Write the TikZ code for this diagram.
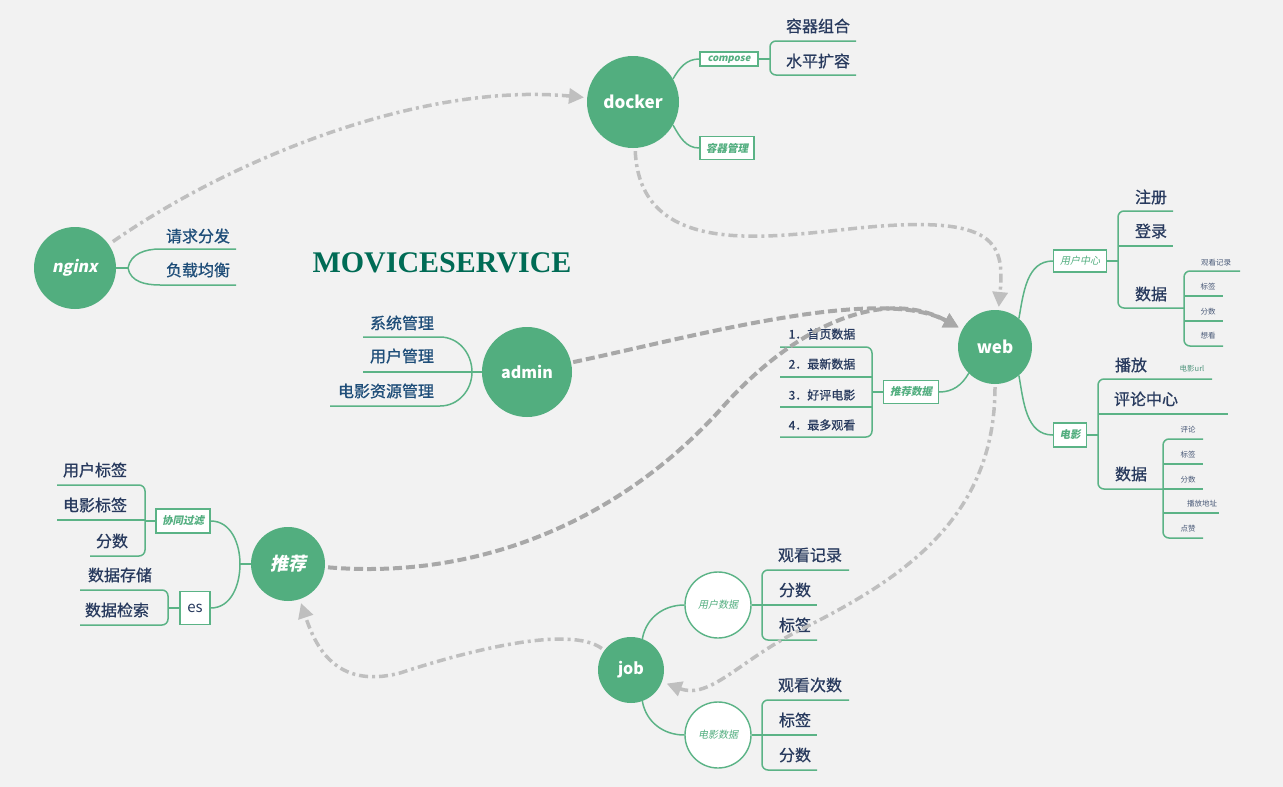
\documentclass[tikz,border=0pt]{standalone}
\usepackage{fontspec}
\setmainfont{Noto Sans CJK SC}
\newfontfamily\slantfont{Noto Sans CJK SC}[FakeSlant=0.2]
\newfontfamily\itemfont{Noto Sans CJK SC}[FakeBold=0.8]
\newfontfamily\titlefont{Liberation Serif}
\usetikzlibrary{arrows.meta}

\definecolor{bg}{HTML}{F2F2F2}
\definecolor{nodegreen}{HTML}{52AE7F}
\definecolor{linegreen}{HTML}{5BB386}
\definecolor{navy}{HTML}{283A5E}
\definecolor{labblue}{HTML}{1F4E79}
\definecolor{slate}{HTML}{4A5A78}
\definecolor{light}{HTML}{BFBFBF}
\definecolor{dark}{HTML}{A8A8A8}
\definecolor{titlegreen}{HTML}{006B55}

\begin{document}
\begin{tikzpicture}[x=1pt, y=-1pt,
    main/.style = {circle, fill=nodegreen, text=white, font=\bfseries\fontsize{17}{17}\selectfont},
    side/.style = {circle, draw=linegreen, line width=1.4pt, fill=white, text=nodegreen, minimum size=66pt, inner sep=0pt, font=\slantfont\fontsize{10}{10}\selectfont},
    tag/.style = {draw=linegreen, line width=1.4pt, fill=white, text=nodegreen, inner sep=0pt, font=\slantfont\bfseries\fontsize{10.5}{11}\selectfont},
    item/.style = {text=navy, inner sep=0pt, font=\itemfont\fontsize{16}{16}\selectfont},
    num/.style = {text=navy, inner sep=0pt, font=\itemfont\fontsize{12}{12}\selectfont},
    mini/.style = {text=slate, inner sep=0pt, font=\fontsize{7.5}{8}\selectfont},
    link/.style = {draw=linegreen, line width=1.5pt},
    fork/.style = {link, rounded corners=6pt},
    flow/.style = {draw=light, line width=3.5pt, dash pattern=on 9pt off 4pt on 3pt off 4pt, -{Triangle[length=15pt,width=15pt]}},
    pull/.style = {draw=dark, line width=4pt, dash pattern=on 9pt off 4pt, -{Triangle[length=15pt,width=15pt]}}]
  \fill[bg] (0,0) rectangle (1283,787);

  % main nodes
  \node[main, minimum size=92pt] (docker) at (633,102) {docker};
  \node[main, minimum size=82pt, font=\slantfont\bfseries\fontsize{16}{16}\selectfont] (nginx) at (75,268) {nginx};
  \node[main, minimum size=90pt, font=\bfseries\fontsize{16}{16}\selectfont] (admin) at (527,372) {admin};
  \node[main, minimum size=74pt] (web) at (995,347) {web};
  \node[main, minimum size=74pt, font=\slantfont\bfseries\fontsize{18}{18}\selectfont] (rec) at (288,564) {推荐};
  \node[main, minimum size=66pt, font=\bfseries\fontsize{16}{16}\selectfont] (job) at (631,670) {job};
  \node[text=titlegreen, font=\titlefont\bfseries\fontsize{30}{30}\selectfont] (title) at (442,263) {MOVICESERVICE};

  % docker
  \node[tag, minimum width=58pt, minimum height=14pt, text height=6pt, text depth=2pt, font=\slantfont\bfseries\fontsize{9.5}{10}\selectfont] (compose) at (729,59) {compose};
  \node[tag, minimum width=54pt, minimum height=23pt] (cm) at (727,148) {容器管理};
  \draw[link] (docker.30) to[out=60, in=180] (compose);
  \draw[link] (docker.-30) to[out=-60, in=180] (cm);
  \draw[link] (compose) -- (770,59);
  \draw[fork] (856,41) -- (770,41) -- (770,75) -- (856,75);
  \node[item] (c1) at (818,26) {容器组合};
  \node[item] (c2) at (818,61) {水平扩容};

  % nginx
  \draw[link] (nginx) -- (128,268);
  \draw[link] (236,249) -- (160,249) to[out=180, in=80] (128,268) to[out=-80, in=180] (160,285) -- (236,285);
  \node[item, text=labblue] (n1) at (198,236) {请求分发};
  \node[item, text=labblue] (n2) at (198,270) {负载均衡};

  % admin
  \draw[link] (admin) -- (472,372);
  \draw[link] (363,337) -- (440,337) to[out=0, in=90] (472,372) to[out=-90, in=0] (440,406) -- (330,406);
  \draw[link] (363,372) -- (472,372);
  \node[item, text=labblue] (a1) at (402,323) {系统管理};
  \node[item, text=labblue] (a2) at (402,356) {用户管理};
  \node[item, text=labblue] (a3) at (386,391) {电影资源管理};

  % web: user center
  \node[tag, minimum width=53pt, minimum height=22pt, font=\slantfont\fontsize{10}{10}\selectfont] (uc) at (1080,261) {用户中心};
  \draw[link] (web.50) to[out=80, in=180] (uc);
  \draw[link] (uc) -- (1118,261);
  \draw[fork] (1173,211) -- (1118,211) -- (1118,308) -- (1184,308);
  \draw[link] (1118,246) -- (1173,246);
  \draw[fork] (1240,271) -- (1184,271) -- (1184,346) -- (1223,346);
  \draw[link] (1184,296) -- (1223,296) (1184,321) -- (1223,321);
  \node[item] (u1) at (1151,197) {注册};
  \node[item] (u2) at (1151,231) {登录};
  \node[item] (u3) at (1151,294) {数据};
  \node[mini] (u4) at (1216,263) {观看记录};
  \node[mini] (u5) at (1208,287) {标签};
  \node[mini] (u6) at (1208,312) {分数};
  \node[mini] (u7) at (1208,336) {想看};

  % web: film
  \node[tag, minimum width=33pt, minimum height=24pt] (film) at (1070,435) {电影};
  \draw[link] (web.-50) to[out=-80, in=180] (film);
  \draw[link] (film) -- (1098,435);
  \draw[fork] (1212,379) -- (1098,379) -- (1098,489) -- (1163,489);
  \draw[link] (1098,414) -- (1228,414);
  \draw[fork] (1203,439) -- (1163,439) -- (1163,538) -- (1203,538);
  \draw[link] (1163,464) -- (1203,464) (1163,489) -- (1203,489) (1163,513) -- (1219,513);
  \node[item] (f1) at (1131,365) {播放};
  \node[mini, text=nodegreen!70!slate] (f2) at (1192,369) {电影url};
  \node[item] (f3) at (1146,399) {评论中心};
  \node[item] (f4) at (1131,474) {数据};
  \node[mini] (f5) at (1188,430) {评论};
  \node[mini] (f6) at (1188,455) {标签};
  \node[mini] (f7) at (1188,480) {分数};
  \node[mini] (f8) at (1202,504) {播放地址};
  \node[mini] (f9) at (1188,529) {点赞};

  % web: hot list
  \node[tag, minimum width=55pt, minimum height=23pt] (hot) at (911,392) {推荐数据};
  \draw[link] (web.-135) to[out=-120, in=0] (hot);
  \draw[link] (hot) -- (872,392);
  \draw[fork] (780,347) -- (872,347) -- (872,437) -- (780,437);
  \draw[link] (780,377) -- (872,377) (780,407) -- (872,407);
  \node[num] (h1) at (822,334) {1．首页数据};
  \node[num] (h2) at (822,364) {2．最新数据};
  \node[num] (h3) at (822,395) {3．好评电影};
  \node[num] (h4) at (822,425) {4．最多观看};

  % recommend
  \node[tag, minimum width=54pt, minimum height=24pt] (cf) at (183,521) {协同过滤};
  \node[tag, minimum width=30pt, minimum height=33pt, text=navy, font=\fontsize{15}{15}\selectfont] (es) at (195,608) {es};
  \draw[link] (rec) -- (240,564);
  \draw[link] (cf) to[out=0, in=90] (240,564) to[out=-90, in=0] (es);
  \draw[link] (cf) -- (145,521);
  \draw[fork] (57,485) -- (145,485) -- (145,556) -- (90,556);
  \draw[link] (57,520) -- (145,520);
  \draw[link] (es) -- (168,608);
  \draw[fork] (80,590) -- (168,590) -- (168,625) -- (80,625);
  \node[item] (r1) at (95,470) {用户标签};
  \node[item] (r2) at (95,505) {电影标签};
  \node[item] (r3) at (112,541) {分数};
  \node[item] (r4) at (120,575) {数据存储};
  \node[item] (r5) at (117,610) {数据检索};

  % job
  \node[side] (ud) at (718,605) {用户数据};
  \node[side] (md) at (718,735) {电影数据};
  \draw[link] (job.70) to[out=80, in=180] (ud);
  \draw[link] (job.-70) to[out=-80, in=180] (md);
  \draw[link] (ud) -- (762,605);
  \draw[fork] (849,570) -- (762,570) -- (762,640) -- (817,640);
  \draw[link] (762,605) -- (817,605);
  \draw[link] (md) -- (762,735);
  \draw[fork] (849,700) -- (762,700) -- (762,770) -- (817,770);
  \draw[link] (762,735) -- (817,735);
  \node[item] (j1) at (810,555) {观看记录};
  \node[item] (j2) at (795,590) {分数};
  \node[item] (j3) at (795,625) {标签};
  \node[item] (j4) at (810,685) {观看次数};
  \node[item] (j5) at (795,720) {标签};
  \node[item] (j6) at (795,755) {分数};

  % dependencies
  \draw[flow, shorten <=5pt, shorten >=3pt] (nginx) .. controls (230,160) and (420,82) .. (docker);
  \draw[flow, shorten <=3pt, shorten >=3pt] (docker) .. controls (640,255) and (760,238) .. (840,230) .. controls (995,212) and (1005,240) .. (web);
  \draw[pull, shorten <=2pt, shorten >=4pt] (admin) .. controls (700,335) and (880,285) .. (web);
  \draw[pull, shorten <=3pt, shorten >=4pt] (rec) .. controls (480,580) and (620,520) .. (720,410) .. controls (790,330) and (880,285) .. (web);
  \draw[flow, shorten <=3pt, shorten >=5pt] (web) .. controls (995,520) and (900,580) .. (800,630) .. controls (740,660) and (710,700) .. (job);
  \draw[flow, shorten <=3pt, shorten >=4pt] (job) .. controls (570,625) and (470,650) .. (400,673) .. controls (335,690) and (315,645) .. (rec);
\end{tikzpicture}
\end{document}
